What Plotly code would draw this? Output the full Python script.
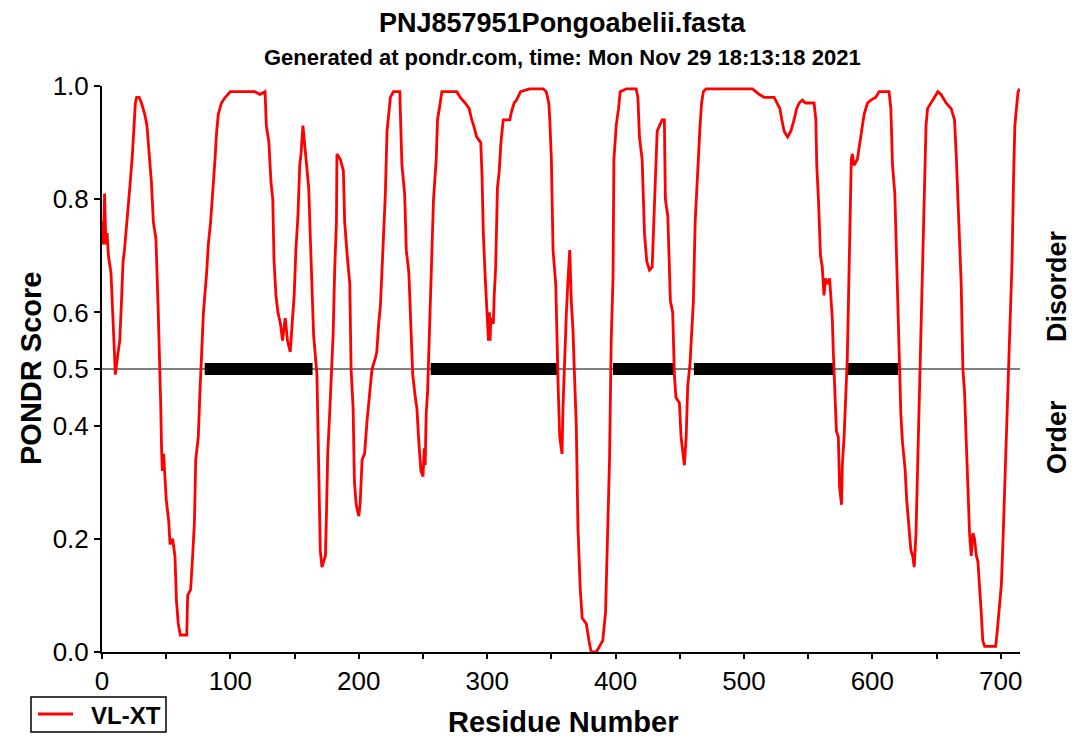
import plotly.graph_objects as go

# Residue positions and VL-XT scores
residue = [0,1,2,3,4,5,7,8.6,9.5,10.4,12,13.8,15,16.4,17.5,19,21,22,23.7,24.7,26,27,29,30.7,33.3,35,37,38.5,40,42,43.7,45,45.7,46.4,47,48,50,52,53,55,56.8,58,59.4,61,66,66.7,69,70.6,72,73,75,76.3,77.6,79,81.5,82.8,84.6,86.7,88,89.3,90.6,93,96,100,119,123,127,128,130,131.6,133,134,135.5,137,139,140.6,142.7,144.5,146.6,148.4,149.7,151,152.6,154,155,156.5,158.3,161,162,163.5,164.8,167.4,168,168.7,169.5,170,171.3,174,174.7,175.8,177.3,178.4,180,181.3,182.6,183,185.7,188,189,191,193,194,195.6,196.6,198,200,201,202.6,204.5,206.5,208.5,210.3,213,214,215.5,216.8,218,219.4,220.7,222,223.3,224.6,227,232,232.3,233.6,235.7,237,239,240.9,242,244,245.3,246.5,247.5,248.4,250,251,251.7,252.5,253.6,254.6,255.6,257,258.2,260.3,261.3,263.4,264.7,276.3,279,282.8,286,288,289.5,291.8,295,296,297,298.3,299.6,301,301.7,302.3,302.8,304.8,305.5,306.6,308,309.4,310.7,312.5,317.6,319,321,322.8,326,333,343.6,346,348,348.8,350,351.3,353.4,354.4,355.4,356.5,358.3,359,360.4,361.7,363,364.3,365.5,366.8,368,369.4,370.7,372.5,374,377.2,379.3,381,385,387.6,390,392.2,394,395.3,396.6,398,398.7,400.5,402.3,403.6,408.3,416,417.4,418.6,420.7,422.5,424.3,426.4,428.5,429.8,431,432.4,434.2,436.3,438,438.8,440.7,442,442.7,444.5,445.8,447,449.7,451,452.8,453.6,455,456.2,458,458.8,460.6,462,463.2,464.5,465.8,467,468.4,470.4,506.7,512,515.8,523.5,526,528,529.5,531.3,534,536.5,539,541,543,545.5,548,554.6,556,556.7,558,559,559.6,561,562.3,563.6,565,566.7,568.8,569.6,571,572,573.5,574,574.5,576,576.6,578,579.2,580.5,581.3,582.3,583.6,584.4,585.7,588.3,589.6,591,592.2,593.6,594.9,596.2,598.8,602.7,605.3,613,614.4,615.7,617.5,618.3,619.6,620.4,621,622.2,623.5,625.6,626.7,628.7,630,631.4,632.6,634,635.3,636.6,637.9,639.2,640.5,641.8,643,645.7,648.3,651,653.5,657.4,661.4,664,665.3,666.6,668,669.2,670.5,671.8,673,674.4,675.7,677,678.3,679.6,681,682.2,683.5,684.8,686,687.5,694,696,697,698.7,700.5,701.8,703,704.4,705.7,707.4,708.8,710,711,712.2,713.5,714.8]
score = [0.76,0.72,0.81,0.72,0.74,0.70,0.67,0.58,0.53,0.49,0.52,0.55,0.61,0.69,0.71,0.75,0.79,0.83,0.88,0.93,0.97,0.98,0.98,0.97,0.95,0.93,0.88,0.83,0.76,0.73,0.61,0.52,0.44,0.36,0.32,0.35,0.27,0.23,0.19,0.20,0.17,0.09,0.05,0.03,0.03,0.10,0.11,0.17,0.23,0.34,0.38,0.46,0.52,0.60,0.67,0.72,0.76,0.82,0.87,0.92,0.95,0.97,0.98,0.99,0.99,0.985,0.99,0.93,0.90,0.83,0.80,0.69,0.63,0.60,0.58,0.55,0.59,0.55,0.53,0.59,0.63,0.71,0.77,0.86,0.88,0.93,0.88,0.82,0.75,0.66,0.56,0.49,0.42,0.36,0.30,0.18,0.15,0.17,0.23,0.35,0.42,0.48,0.56,0.68,0.76,0.88,0.87,0.85,0.76,0.70,0.65,0.50,0.43,0.30,0.26,0.24,0.26,0.34,0.35,0.41,0.46,0.50,0.52,0.53,0.58,0.61,0.67,0.75,0.81,0.92,0.95,0.98,0.99,0.99,0.96,0.86,0.81,0.71,0.67,0.56,0.49,0.45,0.43,0.38,0.35,0.32,0.31,0.36,0.33,0.42,0.46,0.54,0.60,0.74,0.80,0.87,0.94,0.97,0.99,0.99,0.98,0.97,0.96,0.94,0.93,0.91,0.90,0.84,0.74,0.67,0.60,0.55,0.60,0.55,0.59,0.58,0.63,0.68,0.82,0.85,0.90,0.94,0.94,0.955,0.97,0.975,0.99,0.995,0.995,0.99,0.97,0.94,0.87,0.71,0.65,0.53,0.46,0.38,0.35,0.43,0.53,0.60,0.66,0.71,0.62,0.57,0.49,0.40,0.22,0.11,0.06,0.05,0.02,0.0,0.0,0.01,0.02,0.07,0.23,0.34,0.55,0.66,0.87,0.93,0.96,0.99,0.995,0.995,0.98,0.91,0.87,0.74,0.69,0.675,0.68,0.77,0.83,0.92,0.93,0.94,0.94,0.80,0.77,0.69,0.62,0.60,0.49,0.45,0.44,0.38,0.34,0.33,0.38,0.47,0.51,0.54,0.62,0.76,0.82,0.89,0.93,0.97,0.99,0.995,0.995,0.985,0.98,0.98,0.97,0.96,0.94,0.92,0.91,0.92,0.94,0.96,0.97,0.975,0.97,0.97,0.94,0.86,0.80,0.73,0.70,0.68,0.63,0.66,0.65,0.66,0.59,0.53,0.45,0.39,0.38,0.33,0.29,0.26,0.33,0.38,0.44,0.52,0.61,0.76,0.87,0.88,0.86,0.87,0.89,0.91,0.93,0.95,0.96,0.97,0.975,0.98,0.99,0.99,0.96,0.86,0.81,0.74,0.65,0.55,0.50,0.42,0.37,0.32,0.27,0.22,0.18,0.17,0.15,0.21,0.33,0.48,0.60,0.74,0.84,0.93,0.96,0.97,0.98,0.99,0.985,0.97,0.96,0.94,0.88,0.80,0.70,0.65,0.50,0.46,0.38,0.28,0.21,0.17,0.21,0.20,0.17,0.16,0.12,0.07,0.02,0.01,0.01,0.01,0.03,0.08,0.12,0.20,0.28,0.37,0.45,0.56,0.69,0.84,0.93,0.96,0.99,0.995]

# Long disordered regions (start, end) shown as black bars at 0.5
region_start = [80, 256, 398, 461, 581]
region_end = [164, 355, 445, 570, 620]

series_name = "VL-XT"
y_ticks = [0.0, 0.2, 0.4, 0.5, 0.6, 0.8, 1.0]
y_labels = ["0.0", "0.2", "0.4", "0.5", "0.6", "0.8", "1.0"]
x_ticks = list(range(0, 701, 50))
x_labels = [str(v) if v % 100 == 0 else "" for v in x_ticks]

FONT = "Liberation Sans, Arial, sans-serif"
RED = "#ff0000"

# page body has an 8px default margin; compensate so the plot area lands where the reference has it
OFF = 8
PL, PR, PT, PB = 102, 1020, 86, 652  # plot area in screen pixels


def px(x, y):
    return (x - PL) / (PR - PL), (PB - y) / (PB - PT)


fig = go.Figure()

for s, e in zip(region_start, region_end):
    fig.add_trace(go.Scatter(x=[s, e], y=[0.5, 0.5], mode="lines",
                             line=dict(color="black", width=12),
                             showlegend=False, hoverinfo="skip"))

fig.add_trace(go.Scatter(x=residue, y=score, mode="lines", name=series_name,
                         line=dict(color=RED, width=2.8), showlegend=False))

fig.add_shape(type="line", xref="paper", yref="y", x0=0, x1=1, y0=0.5, y1=0.5,
              line=dict(color="black", width=1.2), layer="below")

# legend box (drawn below the plot as in the reference)
bx0, by0 = px(31, 697)
bx1, by1 = px(166, 732)
fig.add_shape(type="rect", xref="paper", yref="paper", x0=bx0, x1=bx1, y0=by1, y1=by0,
              line=dict(color="black", width=1.5), fillcolor="white")
lx0, ly = px(38, 714)
lx1, _ = px(73, 714)
fig.add_shape(type="line", xref="paper", yref="paper", x0=lx0, x1=lx1, y0=ly, y1=ly,
              line=dict(color=RED, width=3))
tx, ty = px(89, 715)
fig.add_annotation(text="<b>%s</b>" % series_name, xref="paper", yref="paper", x=tx, y=ty,
                   showarrow=False, xanchor="left", yanchor="middle",
                   font=dict(size=24, family=FONT, color="black"))

W, H = 1075 - OFF, 740 - OFF
fig.update_layout(
    width=W, height=H,
    margin=dict(l=PL - OFF, r=W + OFF - PR, t=PT - OFF, b=H + OFF - PB, autoexpand=False),
    paper_bgcolor="white", plot_bgcolor="white",
    font=dict(family=FONT, color="black"),
    showlegend=False,
    xaxis=dict(range=[0, 715], tickvals=x_ticks, ticktext=x_labels,
               showgrid=False, zeroline=False, showline=True, linecolor="black",
               linewidth=2, ticks="outside", ticklen=5, tickwidth=2,
               tickcolor="black", tickfont=dict(size=26, family=FONT)),
    yaxis=dict(range=[0, 1.0], tickvals=y_ticks, ticktext=y_labels,
               showgrid=False, zeroline=False, showline=True, linecolor="black",
               linewidth=2, ticks="outside", ticklen=6, tickwidth=2,
               tickcolor="black", tickfont=dict(size=26, family=FONT)),
)

ann = [
    dict(text="<b>PNJ857951Pongoabelii.fasta</b>", x=562, y=23, size=27, angle=0),
    dict(text="<b>Generated at pondr.com, time: Mon Nov 29 18:13:18 2021</b>", x=562, y=57, size=22, angle=0),
    dict(text="<b>Residue Number</b>", x=563, y=722, size=29, angle=0),
    dict(text="<b>PONDR Score</b>", x=31, y=369, size=29, angle=-90),
    dict(text="<b>Disorder</b>", x=1057, y=286, size=27, angle=-90),
    dict(text="<b>Order</b>", x=1057, y=437, size=27, angle=-90),
]
for a in ann:
    xx, yy = px(a["x"], a["y"])
    fig.add_annotation(text=a["text"], xref="paper", yref="paper", x=xx, y=yy,
                       showarrow=False, xanchor="center", yanchor="middle",
                       textangle=a["angle"],
                       font=dict(size=a["size"], family=FONT, color="black"))

fig.write_html("out.html")
